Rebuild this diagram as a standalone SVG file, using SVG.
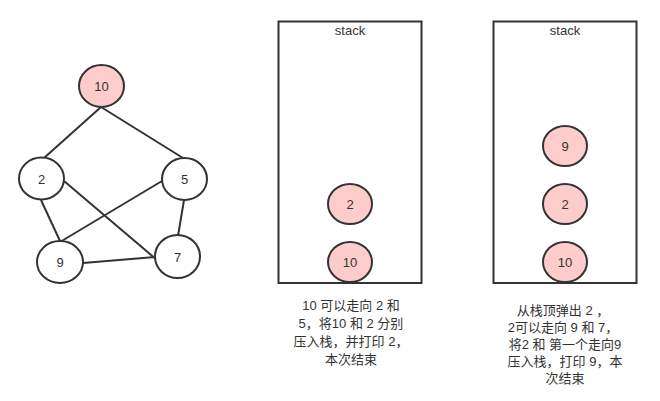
<svg xmlns="http://www.w3.org/2000/svg" width="660" height="401" viewBox="0 0 660 401">
<style>
.n{fill:#fff;stroke:#333;stroke-width:2}
.p{fill:#ffcccc;stroke:#333;stroke-width:2}
.e{stroke:#333;stroke-width:2;fill:none}
.box{fill:#fff;stroke:#333;stroke-width:2}
text{font-family:"Liberation Sans","Noto Sans CJK SC",sans-serif;font-size:13px;fill:#333;text-anchor:middle}
</style>
<rect width="660" height="401" fill="#fff"/>
<g id="edges">
<line class="e" x1="101" y1="107" x2="44" y2="158"/>
<line class="e" x1="101" y1="107" x2="183" y2="158"/>
<line class="e" x1="41" y1="200" x2="60" y2="241"/>
<line class="e" x1="64" y1="181" x2="157" y2="260"/>
<line class="e" x1="162" y1="181" x2="60" y2="242"/>
<line class="e" x1="184" y1="200" x2="178" y2="236"/>
<line class="e" x1="83" y1="263" x2="155" y2="257"/>
</g>
<g id="g10"><ellipse class="p" cx="101.5" cy="86" rx="22.5" ry="21"/><text x="101.5" y="91">10</text></g>
<g id="g2"><ellipse class="n" cx="41.5" cy="178.5" rx="22.5" ry="21"/><text x="41.5" y="183.5">2</text></g>
<g id="g5"><ellipse class="n" cx="184.5" cy="179" rx="22.5" ry="21"/><text x="184.5" y="184">5</text></g>
<g id="g9"><ellipse class="n" cx="60" cy="262" rx="23" ry="21"/><text x="60" y="267">9</text></g>
<g id="g7"><ellipse class="n" cx="177.5" cy="256.5" rx="22.5" ry="21.5"/><text x="177.5" y="261.5">7</text></g>

<g id="stack1">
<rect class="box" x="278.5" y="21.5" width="143" height="261.5"/>
<text x="350" y="35">stack</text>
<g id="s1-2"><ellipse class="p" cx="350" cy="204" rx="22" ry="20"/><text x="350" y="209">2</text></g>
<g id="s1-10"><ellipse class="p" cx="350" cy="262" rx="22" ry="20"/><text x="350" y="267">10</text></g>
</g>
<g id="label1">
<text x="351" y="310">10 可以走向 2 和</text>
<text x="351" y="328">5，将10 和 2 分别</text>
<text x="351" y="346">压入栈，并打印 2，</text>
<text x="351" y="364">本次结束</text>
</g>

<g id="stack2">
<rect class="box" x="493.5" y="21.5" width="143" height="261.5"/>
<text x="565" y="35">stack</text>
<g id="s2-9"><ellipse class="p" cx="565" cy="146" rx="22" ry="20"/><text x="565" y="151">9</text></g>
<g id="s2-2"><ellipse class="p" cx="565" cy="204" rx="22" ry="20"/><text x="565" y="209">2</text></g>
<g id="s2-10"><ellipse class="p" cx="565" cy="262" rx="22" ry="20"/><text x="565" y="267">10</text></g>
</g>
<g id="label2">
<text x="563" y="315">从栈顶弹出 2 ，</text>
<text x="563" y="332">2可以走向 9 和 7，</text>
<text x="565" y="349">将2 和 第一个走向9</text>
<text x="565" y="366">压入栈，打印 9，本</text>
<text x="565" y="383">次结束</text>
</g>
</svg>
